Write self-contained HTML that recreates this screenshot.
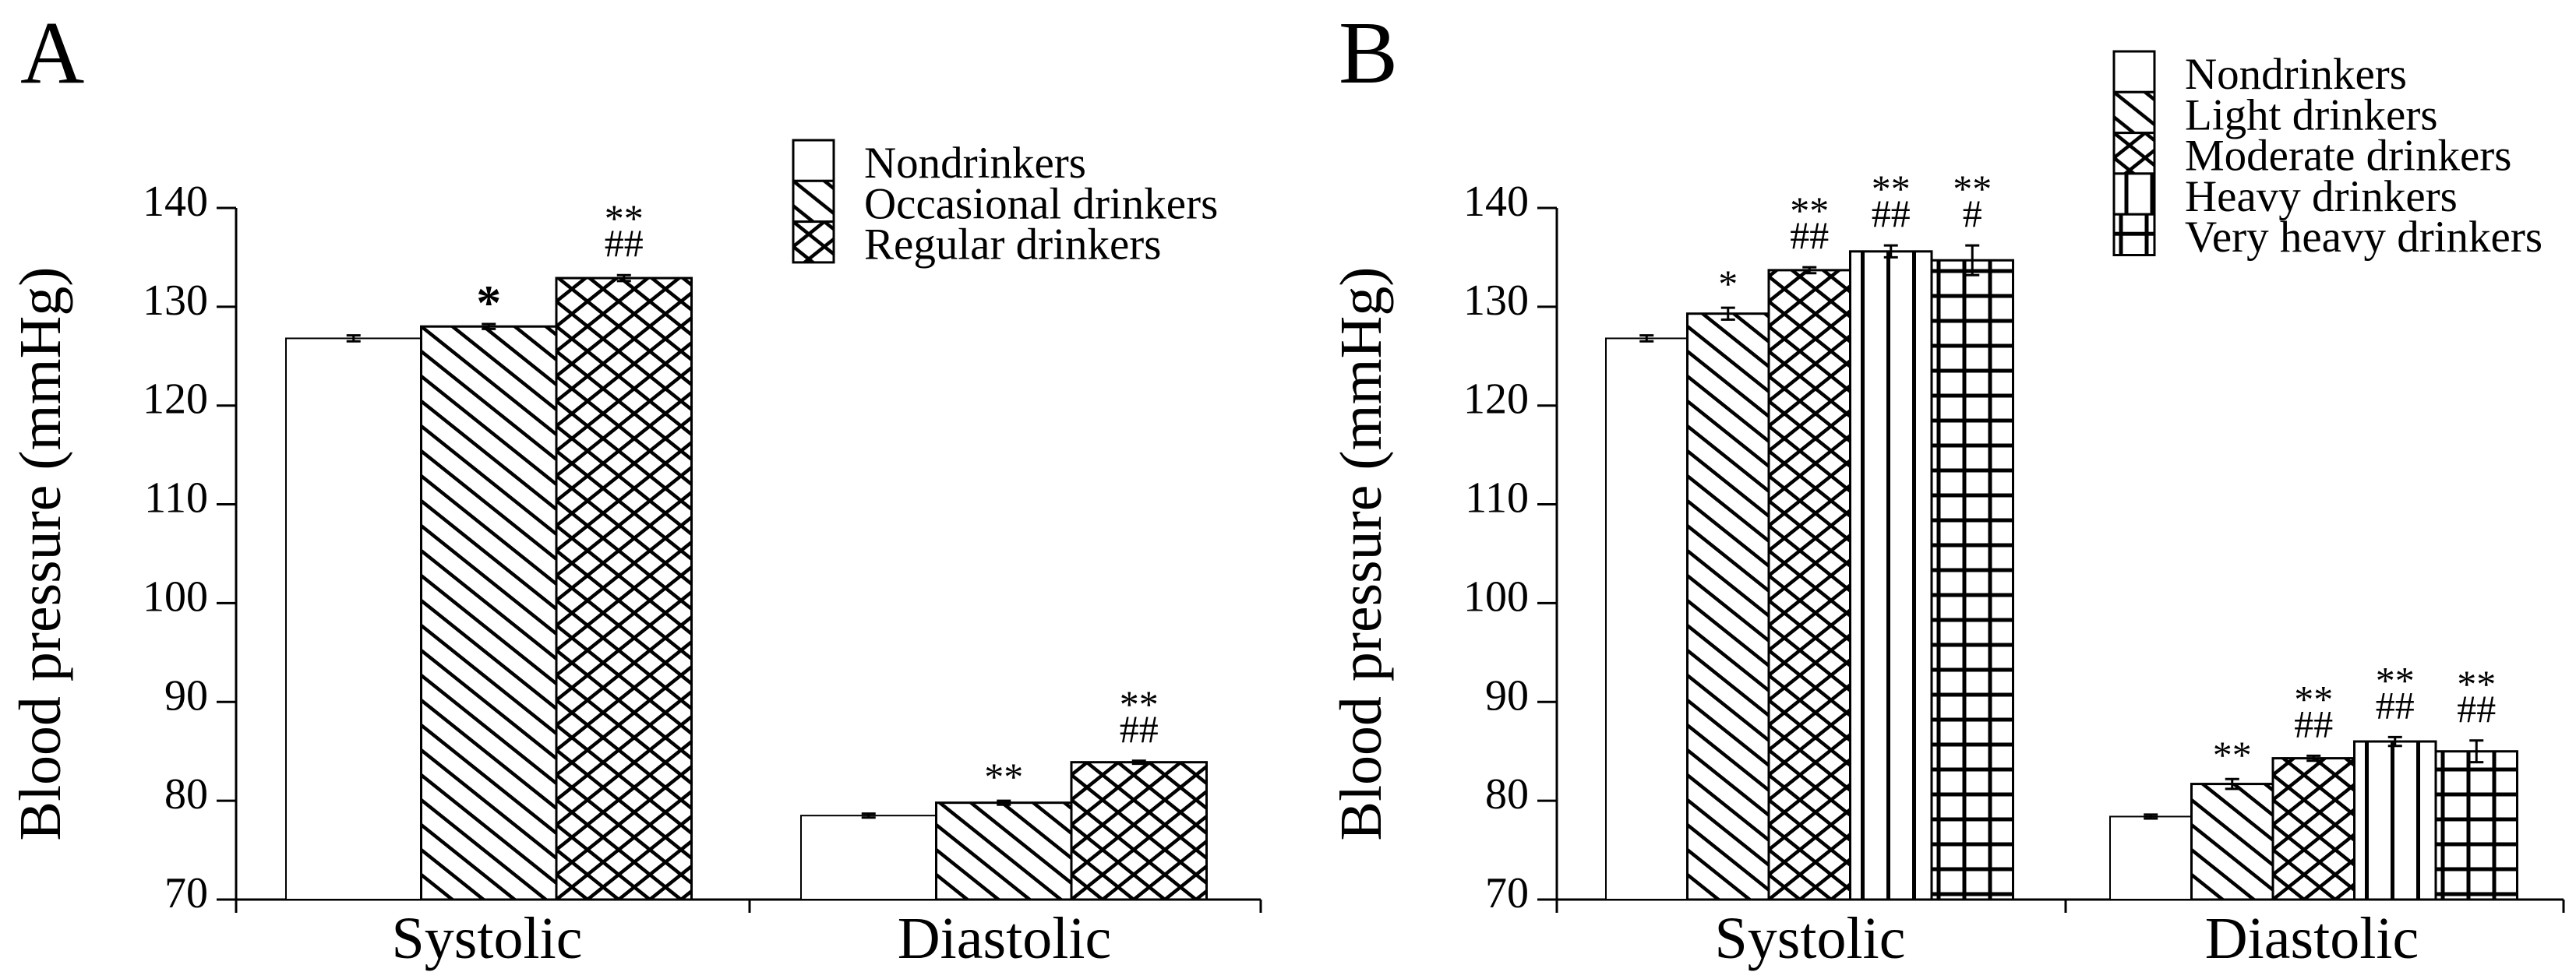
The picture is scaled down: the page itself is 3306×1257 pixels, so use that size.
<!DOCTYPE html>
<html><head><meta charset="utf-8"><style>
html,body{margin:0;padding:0;background:#fff;}
svg{display:block;font-family:"Liberation Serif","Times New Roman",serif;}
</style></head><body>
<svg id="chart" width="3306" height="1257" viewBox="0 0 3306 1257" xmlns="http://www.w3.org/2000/svg">
<defs id="defs"></defs>
<g id="root" font-family="Liberation Serif, Times New Roman, serif"></g>
</svg>
<script>
// ---- data ----
const categories = ["Systolic", "Diastolic"];
const seriesA = ["Nondrinkers", "Occasional drinkers", "Regular drinkers"];
const valuesA_sys = [126.8, 128.0, 132.9];
const valuesA_dia = [78.5, 79.8, 83.9];
const errA_sys = [0.3, 0.25, 0.3];
const errA_dia = [0.2, 0.2, 0.15];
const annA_sys = [[], ["*"], ["**", "##"]];
const annA_dia = [[], ["**"], ["**", "##"]];
const seriesB = ["Nondrinkers", "Light drinkers", "Moderate drinkers", "Heavy drinkers", "Very heavy drinkers"];
const valuesB_sys = [126.8, 129.3, 133.7, 135.6, 134.7];
const valuesB_dia = [78.4, 81.7, 84.3, 86.0, 85.0];
const errB_sys = [0.3, 0.6, 0.3, 0.6, 1.5];
const errB_dia = [0.2, 0.5, 0.25, 0.45, 1.1];
const annB_sys = [[], ["*"], ["**", "##"], ["**", "##"], ["**", "#"]];
const annB_dia = [[], ["**"], ["**", "##"], ["**", "##"], ["**", "##"]];
const yTicks = [70, 80, 90, 100, 110, 120, 130, 140];
const patternsA = ["none", "diag", "cross"];
const patternsB = ["none", "diag", "cross", "vert", "grid"];

const NS = "http://www.w3.org/2000/svg";
const root = document.getElementById("root");
const defs = document.getElementById("defs");
function mk(tag, attrs, parent) {
  const e = document.createElementNS(NS, tag);
  for (const k in attrs) e.setAttribute(k, attrs[k]);
  (parent || root).appendChild(e);
  return e;
}
let pid = 0;
function makePattern(type, ox, oy) {
  if (type === "none") return "#fff";
  const id = "p" + (pid++);
  let w = 40, h = 32;
  if (type === "vert") { w = 33; h = 40; }
  if (type === "grid") { w = 33; h = 32; }
  const p = mk("pattern", {id: id, patternUnits: "userSpaceOnUse", width: w, height: h, x: ox, y: oy}, defs);
  mk("rect", {x: 0, y: 0, width: w, height: h, fill: "#fff"}, p);
  const st = {stroke: "#000", "stroke-width": 4.5, fill: "none"};
  if (type === "diag" || type === "cross") {
    mk("path", Object.assign({d: "M-10,-8 L50,40 M-10,24 L10,40 M30,-8 L50,8"}, st), p);
  }
  if (type === "cross") {
    mk("path", Object.assign({d: "M50,-8 L-10,40 M10,-8 L-10,8 M50,24 L30,40"}, st), p);
  }
  if (type === "vert") {
    mk("path", {d: "M16,0 L16,40", stroke: "#000", "stroke-width": 5}, p);
  }
  if (type === "grid") {
    mk("path", {d: "M9,0 L9,32 M0,25 L33,25", stroke: "#000", "stroke-width": 5}, p);
  }
  return "url(#" + id + ")";
}

const Y0 = 1155, PX = 12.686;
function yScale(v) { return Y0 - (v - 70) * PX; }

function panel(cfg) {
  const g = mk("g", {});
  
  
  const L = mk("text", {x: cfg.letterX, y: 106, "font-size": 114}, g);
  L.textContent = cfg.letter;
  
  
  const ax = mk("g", {}, g);
  
  
  mk("line", {x1: cfg.axisX, y1: yScale(140), x2: cfg.axisX, y2: Y0 + 17, stroke: "#000", "stroke-width": 3}, ax);
  yTicks.forEach(t => {
    mk("line", {x1: cfg.axisX - 25, y1: yScale(t), x2: cfg.axisX, y2: yScale(t), stroke: "#000", "stroke-width": 3}, ax);
    const tl = mk("text", {x: cfg.axisX - 36, y: yScale(t) + 10, "font-size": 56, "text-anchor": "end"}, ax);
    tl.textContent = t;
    
    
  });
  const yt = mk("text", {x: 0, y: 0, "font-size": 76, "text-anchor": "middle", textLength: 737, lengthAdjust: "spacingAndGlyphs",
    transform: "translate(" + (cfg.axisX - 226) + ",711) rotate(-90)"}, g);
  yt.textContent = "Blood pressure (mmHg)";
  
  
  const xa = mk("g", {}, g);
  
  
  mk("line", {x1: cfg.axisX, y1: Y0, x2: cfg.axisEnd, y2: Y0, stroke: "#000", "stroke-width": 3}, xa);
  [cfg.midTick, cfg.axisEnd].forEach(x => mk("line", {x1: x, y1: Y0, x2: x, y2: Y0 + 17, stroke: "#000", "stroke-width": 3}, xa));
  categories.forEach((c, i) => {
    const t = mk("text", {x: cfg.catX[i], y: 1230, "font-size": 76, "text-anchor": "middle"}, xa);
    t.textContent = c;
    
    
  });
  [cfg.sys, cfg.dia].forEach((vals, gi) => {
    const errs = gi === 0 ? cfg.errSys : cfg.errDia;
    const anns = gi === 0 ? cfg.annSys : cfg.annDia;
    vals.forEach((v, i) => {
      const x = cfg.groupStart[gi] + i * cfg.barW;
      const yt2 = yScale(v);
      const fill = makePattern(cfg.patterns[i], x, Y0);
      const r = mk("rect", {x: x, y: yt2, width: cfg.barW, height: Y0 - yt2, fill: fill, stroke: "#000", "stroke-width": i === 0 ? 2 : 3}, g);
      
      
      const cx = x + cfg.barW / 2;
      const eTop = yScale(v + errs[i]), eBot = yScale(v - errs[i]);
      const eb = mk("path", {d: "M" + cx + "," + eTop + " L" + cx + "," + eBot + " M" + (cx - 9) + "," + eTop + " L" + (cx + 9) + "," + eTop + " M" + (cx - 9) + "," + eBot + " L" + (cx + 9) + "," + eBot,
        stroke: "#000", "stroke-width": 3, fill: "none"}, g);
      
      
      const a = anns[i];
      if (a.length === 2) {
        const t1 = mk("text", {x: cx, y: eTop - 56, "font-size": 50, "text-anchor": "middle"}, g);
        t1.textContent = a[0];
        
        
        const t2 = mk("text", {x: cx, y: eTop - 24, "font-size": 50, "text-anchor": "middle"}, g);
        t2.textContent = a[1];
        
        
      } else if (a.length === 1) {
        const big = (a[0] === "*" && cfg.letter === "A");
        const t1 = mk("text", {x: cx, y: eTop - (big ? 6 : 14), "font-size": big ? 64 : 50, "text-anchor": "middle", "font-weight": big ? "bold" : "normal"}, g);
        t1.textContent = a[0];
        
        
      }
    });
  });
  const lg = mk("g", {}, g);
  
  
  cfg.series.forEach((s, i) => {
    const by = cfg.legY + i * 52.3;
    const f = makePattern(cfg.patterns[i], cfg.legX, by);
    mk("rect", {x: cfg.legX, y: by, width: 52, height: 52.3, fill: f, stroke: "#000", "stroke-width": 3}, lg);
    const t = mk("text", {x: cfg.legX + 91, y: by + 48, "font-size": 57}, lg);
    t.textContent = s;
    
    
  });
}

panel({name: "panel-a", letter: "A", letterX: 26, axisX: 303, axisEnd: 1618, midTick: 962,
  catX: [625, 1289], groupStart: [367, 1028], barW: 173.5,
  sys: valuesA_sys, dia: valuesA_dia, errSys: errA_sys, errDia: errA_dia,
  annSys: annA_sys, annDia: annA_dia, series: seriesA, patterns: patternsA,
  legX: 1018, legY: 180});
panel({name: "panel-b", letter: "B", letterX: 1718, axisX: 1998, axisEnd: 3290, midTick: 2651,
  catX: [2323, 2967], groupStart: [2061, 2708], barW: 104.5,
  sys: valuesB_sys, dia: valuesB_dia, errSys: errB_sys, errDia: errB_dia,
  annSys: annB_sys, annDia: annB_dia, series: seriesB, patterns: patternsB,
  legX: 2713, legY: 66});
</script>
</body></html>
